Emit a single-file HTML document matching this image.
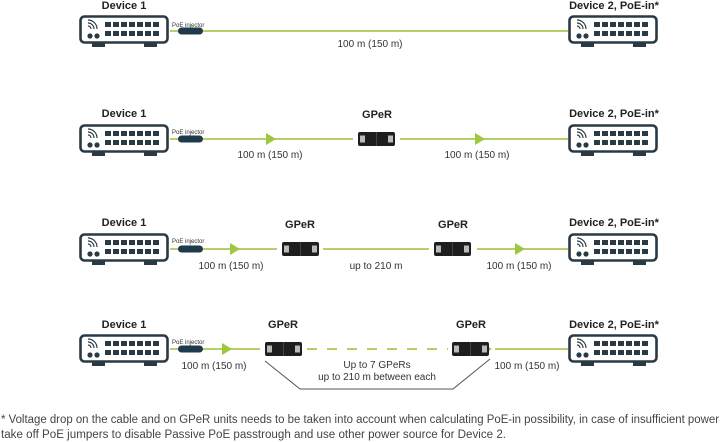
<!DOCTYPE html>
<html><head><meta charset="utf-8"><style>
html,body{margin:0;padding:0;background:#fff;}
svg{display:block;font-family:"Liberation Sans",sans-serif;}
</style></head><body>
<svg width="720" height="442" viewBox="0 0 720 442" xmlns="http://www.w3.org/2000/svg">
<defs>
<g id="dev">
  <rect x="13" y="27" width="13" height="5" fill="#2a3a45"/>
  <rect x="65" y="27" width="13" height="5" fill="#2a3a45"/>
  <rect x="1.5" y="1.5" width="87" height="26" rx="4" fill="#fff" stroke="#2a3a45" stroke-width="2.6"/>
  <path d="M9 5 a9 9 0 0 1 9 9 M9 8 a6 6 0 0 1 6 6 M9 11 a3 3 0 0 1 3 3" fill="none" stroke="#2a3a45" stroke-width="1.2"/>
  <circle cx="11" cy="21" r="2.6" fill="#2a3a45"/><circle cx="18" cy="21" r="2.6" fill="#2a3a45"/>
  <g fill="#2a3a45">
   <rect x="26" y="7" width="6" height="5"/><rect x="34" y="7" width="6" height="5"/><rect x="42" y="7" width="6" height="5"/><rect x="50" y="7" width="6" height="5"/><rect x="58" y="7" width="6" height="5"/><rect x="66" y="7" width="6" height="5"/><rect x="74" y="7" width="6" height="5"/>
   <rect x="26" y="16" width="6" height="5"/><rect x="34" y="16" width="6" height="5"/><rect x="42" y="16" width="6" height="5"/><rect x="50" y="16" width="6" height="5"/><rect x="58" y="16" width="6" height="5"/><rect x="66" y="16" width="6" height="5"/><rect x="74" y="16" width="6" height="5"/>
  </g>
</g>
<g id="inj"><rect x="0" y="-3.5" width="25" height="7" rx="3.5" fill="#1f3a4a"/></g>
<g id="gper">
  <rect x="0" y="-7" width="37" height="14" rx="2" fill="#1e1e1e"/>
  <rect x="2" y="-3.5" width="5" height="7" fill="#bbb"/>
  <rect x="30" y="-3.5" width="5" height="7" fill="#bbb"/>
  <line x1="18.5" y1="-7" x2="18.5" y2="7" stroke="#444" stroke-width="1"/>
</g>
<path id="arr" d="M0 -6 L10 0 L0 6 Z" fill="#9cc83c"/>
</defs>

<g font-weight="bold" font-size="11" fill="#222" text-anchor="middle">
  <text x="124" y="9">Device 1</text><text x="614" y="9">Device 2, PoE-in*</text>
  <text x="124" y="117">Device 1</text><text x="614" y="117">Device 2, PoE-in*</text>
  <text x="124" y="226">Device 1</text><text x="614" y="226">Device 2, PoE-in*</text>
  <text x="124" y="328">Device 1</text><text x="614" y="328">Device 2, PoE-in*</text>
  <text x="377" y="118">GPeR</text>
  <text x="300" y="228">GPeR</text><text x="453" y="228">GPeR</text>
  <text x="283" y="328">GPeR</text><text x="471" y="328">GPeR</text>
</g>
<g font-size="6" fill="#333">
  <text x="172" y="27">PoE injector</text>
  <text x="172" y="134">PoE injector</text>
  <text x="172" y="243">PoE injector</text>
  <text x="172" y="344">PoE injector</text>
</g>

<!-- Row 1 -->
<use href="#dev" x="79" y="15"/><use href="#dev" x="568" y="15"/>
<line x1="170" y1="31" x2="568" y2="31" stroke="#b5d06a" stroke-width="2"/>
<use href="#inj" x="178" y="31"/>
<text x="370" y="47" font-size="10" fill="#333" text-anchor="middle">100 m (150 m)</text>

<!-- Row 2 -->
<use href="#dev" x="79" y="124"/><use href="#dev" x="568" y="124"/>
<line x1="170" y1="139" x2="353" y2="139" stroke="#b5d06a" stroke-width="2"/>
<line x1="400" y1="139" x2="568" y2="139" stroke="#b5d06a" stroke-width="2"/>
<use href="#inj" x="178" y="139"/>
<use href="#arr" x="266" y="139"/><use href="#arr" x="475" y="139"/>
<use href="#gper" x="358" y="139"/>
<text x="270" y="158" font-size="10" fill="#333" text-anchor="middle">100 m (150 m)</text>
<text x="477" y="158" font-size="10" fill="#333" text-anchor="middle">100 m (150 m)</text>

<!-- Row 3 -->
<use href="#dev" x="79" y="233"/><use href="#dev" x="568" y="233"/>
<line x1="170" y1="249" x2="277" y2="249" stroke="#b5d06a" stroke-width="2"/>
<line x1="323" y1="249" x2="429" y2="249" stroke="#b5d06a" stroke-width="2"/>
<line x1="477" y1="249" x2="568" y2="249" stroke="#b5d06a" stroke-width="2"/>
<use href="#inj" x="178" y="249"/>
<use href="#arr" x="230" y="249"/><use href="#arr" x="515" y="249"/>
<use href="#gper" x="282" y="249"/><use href="#gper" x="434" y="249"/>
<text x="231" y="269" font-size="10" fill="#333" text-anchor="middle">100 m (150 m)</text>
<text x="376" y="269" font-size="10" fill="#333" text-anchor="middle">up to 210 m</text>
<text x="519" y="269" font-size="10" fill="#333" text-anchor="middle">100 m (150 m)</text>

<!-- Row 4 -->
<use href="#dev" x="79" y="334"/><use href="#dev" x="568" y="334"/>
<line x1="170" y1="349" x2="260" y2="349" stroke="#b5d06a" stroke-width="2"/>
<line x1="307" y1="349" x2="448" y2="349" stroke="#b5d06a" stroke-width="2" stroke-dasharray="10,10"/>
<line x1="495" y1="349" x2="568" y2="349" stroke="#b5d06a" stroke-width="2"/>
<use href="#inj" x="178" y="349"/>
<use href="#arr" x="222" y="349"/><use href="#arr" x="482" y="349"/>
<use href="#gper" x="265" y="349"/><use href="#gper" x="452" y="349"/>
<text x="214" y="369" font-size="10" fill="#333" text-anchor="middle">100 m (150 m)</text>
<text x="527" y="369" font-size="10" fill="#333" text-anchor="middle">100 m (150 m)</text>
<text x="377" y="368" font-size="10" fill="#333" text-anchor="middle">Up to 7 GPeRs</text>
<text x="377" y="380" font-size="10" fill="#333" text-anchor="middle">up to 210 m between each</text>
<polyline points="265,361 300,389 453,389 490,359" fill="none" stroke="#555" stroke-width="1"/>

<!-- footnote -->
<text x="1" y="423" font-size="11.5" fill="#444" textLength="718" lengthAdjust="spacingAndGlyphs">* Voltage drop on the cable and on GPeR units needs to be taken into account when calculating PoE-in possibility, in case of insufficient power</text>
<text x="1" y="438" font-size="11.5" fill="#444" textLength="505" lengthAdjust="spacingAndGlyphs">take off PoE jumpers to disable Passive PoE passtrough and use other power source for Device 2.</text>
</svg>
</body></html>
